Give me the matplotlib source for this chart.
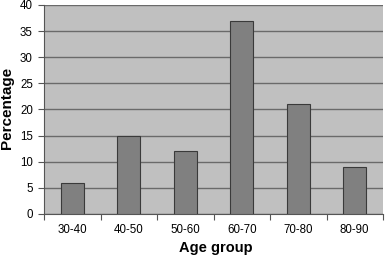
import matplotlib
matplotlib.use("Agg")
import matplotlib.pyplot as plt
import numpy as np

categories = ["30-40", "40-50", "50-60", "60-70", "70-80", "80-90"]
values = [6, 15, 12, 37, 21, 9]
yticks = [0, 5, 10, 15, 20, 25, 30, 35, 40]

plt.rcParams['font.family'] = ['Liberation Sans', 'DejaVu Sans']

fig = plt.figure(figsize=(3.87, 2.56), dpi=100)
ax = fig.add_axes([44/387, 1-214/256, (383-44)/387, (214-5)/256])
ax.set_facecolor("#c0c0c0")

x = np.arange(len(categories))
ax.bar(x, values, width=0.4, color="#808080", edgecolor="#3a3a3a", linewidth=0.8, zorder=3)

ax.set_xlim(-0.5, len(categories) - 0.5)
ax.set_ylim(0, 40)
ax.set_yticks(yticks)
ax.yaxis.grid(True, color="#6a6a6a", linewidth=1.0, zorder=0)
ax.set_axisbelow(True)

ax.set_xticks(x)
ax.set_xticklabels(categories, fontsize=8.3)
ax.tick_params(axis='x', which='major', length=0, pad=7)
ax.set_xticks(np.arange(-0.5, len(categories)), minor=True)
ax.tick_params(axis='x', which='minor', length=4, color="#555555", width=0.8)
ax.tick_params(axis='y', length=4, color="#555555", width=0.8, labelsize=8.3, pad=4)

for s in ["top", "right"]:
    ax.spines[s].set_visible(False)
for s in ["left", "bottom"]:
    ax.spines[s].set_color("#555555")
    ax.spines[s].set_linewidth(0.8)

ax.set_xlabel("Age group", fontsize=10.5, fontweight="bold")
ax.xaxis.set_label_coords((216 - 44) / 339, -(248 - 214) / 209)
ax.xaxis.label.set_va("center")
ax.set_ylabel("Percentage", fontsize=11, fontweight="bold")
ax.yaxis.set_label_coords((7 - 44) / 339, (214 - 108) / 209)
ax.yaxis.label.set_va("center")

fig.savefig("out.png", dpi=100)
